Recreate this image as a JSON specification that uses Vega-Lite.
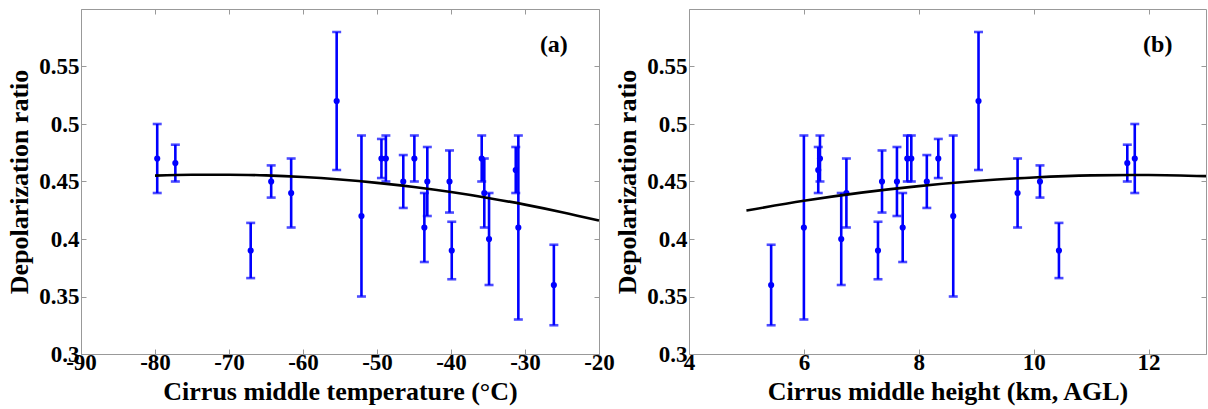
{
  "$schema": "https://vega.github.io/schema/vega-lite/v6.json",
  "background": "white",
  "padding": {"left": 6, "top": 8, "right": 1, "bottom": 4},
  "bounds": "flush",
  "spacing": 90,
  "datasets": {
    "pts": [
      {"temp": -79.7, "height": 11.76, "r": 0.47, "lo": 0.44, "hi": 0.5},
      {"temp": -77.25, "height": 11.63, "r": 0.466, "lo": 0.45, "hi": 0.482},
      {"temp": -67.07, "height": 10.44, "r": 0.39, "lo": 0.366, "hi": 0.414},
      {"temp": -64.3, "height": 10.11, "r": 0.45, "lo": 0.436, "hi": 0.464},
      {"temp": -61.6, "height": 9.72, "r": 0.44, "lo": 0.41, "hi": 0.47},
      {"temp": -55.45, "height": 9.04, "r": 0.52, "lo": 0.46, "hi": 0.58},
      {"temp": -52.1, "height": 8.6, "r": 0.42, "lo": 0.35, "hi": 0.49},
      {"temp": -49.4, "height": 8.34, "r": 0.47, "lo": 0.453, "hi": 0.487},
      {"temp": -48.8, "height": 7.87, "r": 0.47, "lo": 0.45, "hi": 0.49},
      {"temp": -46.45, "height": 8.14, "r": 0.45, "lo": 0.427, "hi": 0.473},
      {"temp": -44.95, "height": 7.8, "r": 0.47, "lo": 0.45, "hi": 0.49},
      {"temp": -43.6, "height": 7.72, "r": 0.41, "lo": 0.38, "hi": 0.44},
      {"temp": -43.2, "height": 7.62, "r": 0.45, "lo": 0.42, "hi": 0.48},
      {"temp": -40.2, "height": 7.36, "r": 0.45, "lo": 0.423, "hi": 0.477},
      {"temp": -39.9, "height": 7.29, "r": 0.39, "lo": 0.365, "hi": 0.415},
      {"temp": -35.85, "height": 6.28, "r": 0.47, "lo": 0.45, "hi": 0.49},
      {"temp": -35.5, "height": 6.74, "r": 0.44, "lo": 0.41, "hi": 0.47},
      {"temp": -34.86, "height": 6.65, "r": 0.4, "lo": 0.36, "hi": 0.44},
      {"temp": -31.25, "height": 6.25, "r": 0.46, "lo": 0.44, "hi": 0.48},
      {"temp": -30.9, "height": 6.0, "r": 0.41, "lo": 0.33, "hi": 0.49},
      {"temp": -26.1, "height": 5.43, "r": 0.36, "lo": 0.325, "hi": 0.395}
    ],
    "fitT": [
      {"t": -80, "r": 0.4551}, {"t": -75, "r": 0.4559}, {"t": -70, "r": 0.4559},
      {"t": -65, "r": 0.4553}, {"t": -60, "r": 0.4539}, {"t": -55, "r": 0.4517},
      {"t": -50, "r": 0.4488}, {"t": -45, "r": 0.4452}, {"t": -40, "r": 0.4408},
      {"t": -35, "r": 0.4357}, {"t": -30, "r": 0.4299}, {"t": -25, "r": 0.4233},
      {"t": -20, "r": 0.416}
    ],
    "fitH": [
      {"h": 5, "r": 0.4247}, {"h": 6, "r": 0.4332}, {"h": 7, "r": 0.4403},
      {"h": 8, "r": 0.446}, {"h": 9, "r": 0.4504}, {"h": 10, "r": 0.4535},
      {"h": 11, "r": 0.4553}, {"h": 12, "r": 0.4557}, {"h": 13, "r": 0.4547}
    ]
  },
  "config": {
    "view": {"stroke": null},
    "axis": {
      "labelFont": "Liberation Serif", "labelFontWeight": "bold", "labelFontSize": 23, "labelColor": "#000000",
      "titleFont": "Liberation Serif", "titleFontWeight": "bold", "titleFontSize": 26, "titleColor": "#000000",
      "domainColor": "#999999", "tickColor": "#999999", "tickSize": -5, "grid": false, "labelPadding": 7,
      "labelFlush": false, "labelOverlap": false
    },
    "axisX": {"labelPadding": 2}
  },
  "hconcat": [
    {
      "width": 518, "height": 345,
      "data": {"name": "pts"},
      "resolve": {"axis": {"x": "independent", "y": "independent"}},
      "layer": [
        {
          "mark": {"type": "rule", "color": "#0000ff", "strokeWidth": 2.6},
          "encoding": {
            "x": {"field": "temp", "type": "quantitative", "scale": {"domain": [-90, -20], "nice": false},
                  "axis": {"values": [-90, -80, -70, -60, -50, -40, -30, -20], "labelExpr": "'' + datum.value", "title": "Cirrus middle temperature (°C)", "titlePadding": 4}},
            "y": {"field": "lo", "type": "quantitative", "scale": {"domain": [0.3, 0.6], "nice": false, "zero": false},
                  "axis": {"values": [0.3, 0.35, 0.4, 0.45, 0.5, 0.55], "format": ".2~f", "title": "Depolarization ratio", "titlePadding": 6}},
            "y2": {"field": "hi"}
          }
        },
        {
          "mark": {"type": "tick", "orient": "horizontal", "color": "#0000ff", "size": 9, "thickness": 2.6},
          "encoding": {
            "x": {"field": "temp", "type": "quantitative", "axis": {"orient": "top", "labels": false, "title": null, "values": [-90, -80, -70, -60, -50, -40, -30, -20]}},
            "y": {"field": "lo", "type": "quantitative", "axis": {"orient": "right", "labels": false, "title": null, "values": [0.3, 0.35, 0.4, 0.45, 0.5, 0.55]}}
          }
        },
        {
          "mark": {"type": "tick", "orient": "horizontal", "color": "#0000ff", "size": 9, "thickness": 2.6},
          "encoding": {
            "x": {"field": "temp", "type": "quantitative", "axis": null},
            "y": {"field": "hi", "type": "quantitative", "axis": null}
          }
        },
        {
          "mark": {"type": "circle", "color": "#0000ff", "opacity": 1, "size": 38},
          "encoding": {
            "x": {"field": "temp", "type": "quantitative", "axis": null},
            "y": {"field": "r", "type": "quantitative", "axis": null}
          }
        },
        {
          "data": {"name": "fitT"},
          "mark": {"type": "line", "color": "#000000", "strokeWidth": 2.6, "interpolate": "monotone"},
          "encoding": {
            "x": {"field": "t", "type": "quantitative", "axis": null},
            "y": {"field": "r", "type": "quantitative", "axis": null}
          }
        },
        {
          "data": {"values": [{}]},
          "mark": {"type": "text", "text": "(a)", "font": "Liberation Serif", "fontWeight": "bold", "fontSize": 24, "align": "center", "baseline": "middle", "color": "#000000"},
          "encoding": {
            "x": {"datum": -26.1, "type": "quantitative", "axis": null},
            "y": {"datum": 0.569, "type": "quantitative", "axis": null}
          }
        }
      ]
    },
    {
      "width": 517, "height": 345,
      "data": {"name": "pts"},
      "resolve": {"axis": {"x": "independent", "y": "independent"}},
      "layer": [
        {
          "mark": {"type": "rule", "color": "#0000ff", "strokeWidth": 2.6},
          "encoding": {
            "x": {"field": "height", "type": "quantitative", "scale": {"domain": [4, 13], "nice": false, "zero": false},
                  "axis": {"values": [4, 6, 8, 10, 12], "title": "Cirrus middle height (km, AGL)", "titlePadding": 4}},
            "y": {"field": "lo", "type": "quantitative", "scale": {"domain": [0.3, 0.6], "nice": false, "zero": false},
                  "axis": {"values": [0.3, 0.35, 0.4, 0.45, 0.5, 0.55], "format": ".2~f", "title": "Depolarization ratio", "titlePadding": 6}},
            "y2": {"field": "hi"}
          }
        },
        {
          "mark": {"type": "tick", "orient": "horizontal", "color": "#0000ff", "size": 9, "thickness": 2.6},
          "encoding": {
            "x": {"field": "height", "type": "quantitative", "axis": {"orient": "top", "labels": false, "title": null, "values": [4, 6, 8, 10, 12]}},
            "y": {"field": "lo", "type": "quantitative", "axis": {"orient": "right", "labels": false, "title": null, "values": [0.3, 0.35, 0.4, 0.45, 0.5, 0.55]}}
          }
        },
        {
          "mark": {"type": "tick", "orient": "horizontal", "color": "#0000ff", "size": 9, "thickness": 2.6},
          "encoding": {
            "x": {"field": "height", "type": "quantitative", "axis": null},
            "y": {"field": "hi", "type": "quantitative", "axis": null}
          }
        },
        {
          "mark": {"type": "circle", "color": "#0000ff", "opacity": 1, "size": 38},
          "encoding": {
            "x": {"field": "height", "type": "quantitative", "axis": null},
            "y": {"field": "r", "type": "quantitative", "axis": null}
          }
        },
        {
          "data": {"name": "fitH"},
          "mark": {"type": "line", "color": "#000000", "strokeWidth": 2.6, "interpolate": "monotone"},
          "encoding": {
            "x": {"field": "h", "type": "quantitative", "axis": null},
            "y": {"field": "r", "type": "quantitative", "axis": null}
          }
        },
        {
          "data": {"values": [{}]},
          "mark": {"type": "text", "text": "(b)", "font": "Liberation Serif", "fontWeight": "bold", "fontSize": 24, "align": "center", "baseline": "middle", "color": "#000000"},
          "encoding": {
            "x": {"datum": 12.16, "type": "quantitative", "axis": null},
            "y": {"datum": 0.569, "type": "quantitative", "axis": null}
          }
        }
      ]
    }
  ]
}
